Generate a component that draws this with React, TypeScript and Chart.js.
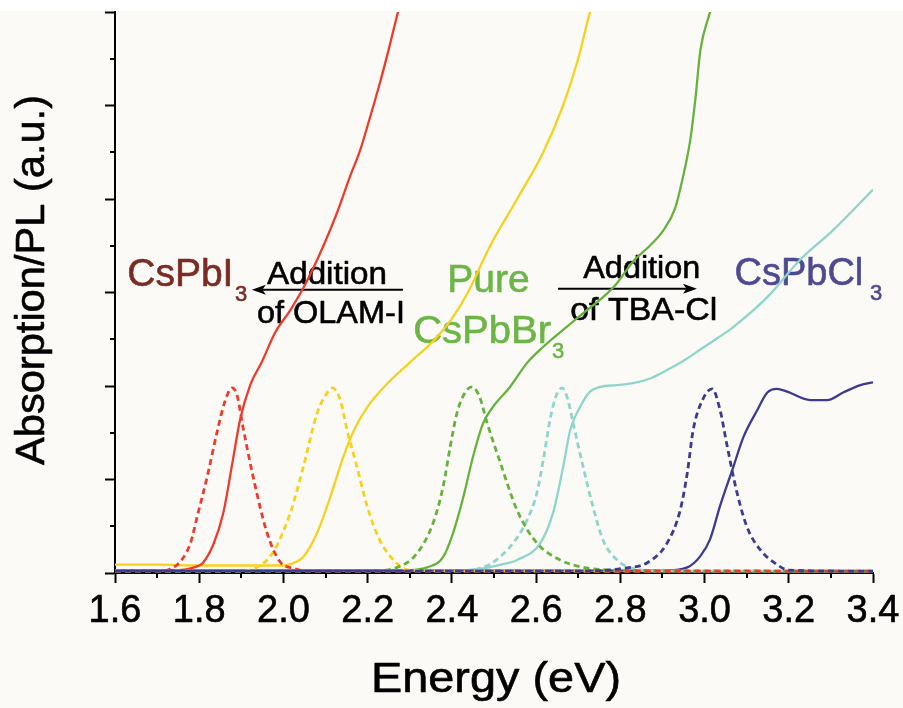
import React, { useEffect, useRef } from "react";
import { Chart, registerables } from "chart.js";

Chart.register(...registerables);

const FONT = "'Liberation Sans', Arial, Helvetica, sans-serif";

// ---- axis ticks ----
const xTickLabels = ["1.6", "1.8", "2.0", "2.2", "2.4", "2.6", "2.8", "3.0", "3.2", "3.4"];
const xMinorTicks = [1.7, 1.9, 2.1, 2.3, 2.5, 2.7, 2.9, 3.1, 3.3];
const yMinorTicks = [0.5, 1.5, 2.5, 3.5, 4.5, 5.5];

// ---- absorption (solid) ----
const iAbsE = [1.6, 1.65, 1.7, 1.75, 1.78, 1.8, 1.809, 1.833, 1.857, 1.88, 1.897, 1.921, 1.949, 1.98, 2.016, 2.051, 2.094, 2.127, 2.158, 2.182, 2.206, 2.229, 2.25, 2.272, 2.29];
const iAbsV = [0.025, 0.025, 0.025, 0.03, 0.05, 0.08, 0.11, 0.3, 0.64, 1.21, 1.64, 2.01, 2.26, 2.57, 2.81, 3.08, 3.49, 3.85, 4.24, 4.52, 4.88, 5.24, 5.6, 6.0, 6.3];

const ibAbsE = [1.6, 1.7, 1.8, 1.9, 2.0, 2.02, 2.047, 2.08, 2.111, 2.142, 2.17, 2.2, 2.241, 2.3, 2.36, 2.4, 2.438, 2.491, 2.555, 2.617, 2.664, 2.7, 2.728, 2.75];
const ibAbsV = [0.09, 0.09, 0.08, 0.08, 0.08, 0.1, 0.17, 0.43, 0.81, 1.24, 1.55, 1.78, 2.0, 2.25, 2.5, 2.72, 3.0, 3.5, 4.0, 4.5, 5.0, 5.5, 6.0, 6.3];

const brAbsE = [1.6, 1.8, 2.0, 2.2, 2.3, 2.341, 2.379, 2.403, 2.427, 2.45, 2.474, 2.498, 2.538, 2.579, 2.617, 2.664, 2.712, 2.759, 2.792, 2.83, 2.87, 2.9, 2.93, 2.949, 2.966, 2.978, 2.99, 3.013, 3.03];
const brAbsV = [0.025, 0.025, 0.025, 0.025, 0.03, 0.06, 0.17, 0.43, 0.81, 1.24, 1.6, 1.78, 1.99, 2.25, 2.42, 2.6, 2.78, 2.95, 3.1, 3.33, 3.5, 3.65, 3.9, 4.24, 4.63, 5.06, 5.59, 6.0, 6.3];

const bcAbsE = [1.6, 2.0, 2.4, 2.474, 2.517, 2.555, 2.61, 2.64, 2.664, 2.681, 2.705, 2.728, 2.752, 2.792, 2.83, 2.871, 2.911, 2.95, 2.99, 3.03, 3.068, 3.149, 3.227, 3.306, 3.4];
const bcAbsV = [0.025, 0.025, 0.025, 0.05, 0.09, 0.14, 0.32, 0.64, 1.13, 1.53, 1.78, 1.94, 1.99, 2.01, 2.03, 2.08, 2.17, 2.27, 2.39, 2.51, 2.63, 2.95, 3.35, 3.67, 4.1];

const clAbsE = [1.6, 2.0, 2.5, 2.9, 2.959, 2.99, 3.013, 3.037, 3.068, 3.092, 3.125, 3.149, 3.172, 3.196, 3.251, 3.291, 3.329, 3.37, 3.4];
const clAbsV = [0.025, 0.025, 0.025, 0.025, 0.06, 0.18, 0.36, 0.72, 1.13, 1.45, 1.74, 1.93, 1.97, 1.94, 1.85, 1.85, 1.93, 2.01, 2.04];

// ---- photoluminescence (dashed) ----
const iPlE = [1.6, 1.7, 1.73, 1.76, 1.78, 1.795, 1.82, 1.842, 1.86, 1.878, 1.89, 1.904, 1.928, 1.961, 1.992, 2.023, 2.06, 2.2, 2.6, 3.0, 3.4];
const iPlV = [0.02, 0.02, 0.04, 0.15, 0.33, 0.6, 1.05, 1.5, 1.82, 1.98, 1.9, 1.56, 1.03, 0.43, 0.12, 0.05, 0.02, 0.02, 0.02, 0.02, 0.02];

const ibPlE = [1.6, 1.9, 1.937, 1.975, 2.016, 2.047, 2.08, 2.1, 2.116, 2.135, 2.151, 2.175, 2.199, 2.229, 2.27, 2.3, 2.5, 3.4];
const ibPlV = [0.02, 0.02, 0.06, 0.22, 0.64, 1.13, 1.71, 1.9, 1.98, 1.85, 1.53, 1.13, 0.71, 0.35, 0.1, 0.03, 0.02, 0.02];

const brPlE = [1.6, 2.2, 2.27, 2.317, 2.355, 2.379, 2.396, 2.412, 2.43, 2.448, 2.466, 2.484, 2.515, 2.555, 2.602, 2.657, 2.712, 2.8, 3.4];
const brPlV = [0.02, 0.02, 0.06, 0.21, 0.53, 0.92, 1.35, 1.71, 1.92, 1.99, 1.88, 1.6, 1.18, 0.67, 0.32, 0.14, 0.06, 0.03, 0.02];

const bcPlE = [1.6, 2.4, 2.474, 2.538, 2.579, 2.602, 2.617, 2.633, 2.648, 2.662, 2.675, 2.688, 2.712, 2.735, 2.759, 2.792, 2.83, 2.9, 3.4];
const bcPlV = [0.02, 0.02, 0.06, 0.28, 0.57, 0.86, 1.21, 1.64, 1.9, 1.98, 1.86, 1.6, 1.13, 0.71, 0.35, 0.14, 0.05, 0.02, 0.02];

const clPlE = [1.6, 2.7, 2.807, 2.864, 2.911, 2.942, 2.959, 2.973, 2.995, 3.018, 3.037, 3.054, 3.077, 3.101, 3.132, 3.172, 3.2, 3.4];
const clPlV = [0.02, 0.02, 0.05, 0.11, 0.32, 0.67, 1.07, 1.53, 1.85, 1.97, 1.74, 1.35, 0.86, 0.49, 0.25, 0.09, 0.03, 0.02];

// ---- colours ----
const RED = "#ee3b2b";
const YELLOW = "#f6d11e";
const GREEN = "#66b23c";
const CYAN = "#8ed5cb";
const BLUE = "#3d3b8f";

const pts = (es: number[], vs: number[]) => es.map((e, i) => ({ x: e, y: vs[i] }));

function drawArrow(ctx: CanvasRenderingContext2D, x1: number, x2: number, y: number) {
  const dir = x2 > x1 ? 1 : -1;
  const head = 14;
  ctx.save();
  ctx.strokeStyle = "#000";
  ctx.fillStyle = "#000";
  ctx.lineWidth = 2;
  ctx.beginPath();
  ctx.moveTo(x1, y);
  ctx.lineTo(x2 - dir * head * 0.6, y);
  ctx.stroke();
  ctx.beginPath();
  ctx.moveTo(x2, y);
  ctx.lineTo(x2 - dir * head, y - 5);
  ctx.lineTo(x2 - dir * head * 0.75, y);
  ctx.lineTo(x2 - dir * head, y + 5);
  ctx.closePath();
  ctx.fill();
  ctx.restore();
}

function txt(
  ctx: CanvasRenderingContext2D,
  s: string,
  x: number,
  y: number,
  size: number,
  color: string,
  align: CanvasTextAlign = "left",
  targetWidth = 0
) {
  ctx.save();
  ctx.font = `${size}px ${FONT}`;
  ctx.fillStyle = color;
  ctx.strokeStyle = color;
  ctx.lineWidth = 0.6;
  ctx.lineJoin = "round";
  ctx.textAlign = align;
  ctx.textBaseline = "alphabetic";
  if (targetWidth > 0) {
    const w = ctx.measureText(s).width;
    ctx.translate(x, y);
    ctx.scale(targetWidth / w, 1);
    ctx.fillText(s, 0, 0);
    ctx.strokeText(s, 0, 0);
  } else {
    ctx.fillText(s, x, y);
    ctx.strokeText(s, x, y);
  }
  ctx.restore();
}

const backgroundPlugin = {
  id: "bg",
  beforeDraw(chart: any) {
    const { ctx, width, height } = chart;
    ctx.save();
    ctx.fillStyle = "#ffffff";
    ctx.fillRect(0, 0, width, height);
    ctx.fillStyle = "#fcfaf7";
    ctx.fillRect(0, 11, width, height - 11);
    ctx.restore();
  },
};

const annotationPlugin = {
  id: "annot",
  beforeDatasetsDraw(chart: any) {
    const { ctx } = chart;
    const xs = chart.scales.x;
    const ys = chart.scales.y;
    const X = (v: number) => xs.getPixelForValue(v);
    const Y = (v: number) => ys.getPixelForValue(v);
    // CsPbI3
    txt(ctx, "CsPbI", X(1.629), Y(3.07), 39, "#7b2b24");
    txt(ctx, "3", X(1.885), Y(2.91), 22, "#7b2b24");
    // left arrow
    txt(ctx, "Addition", X(1.961), Y(3.09), 32, "#000", "left", 120);
    drawArrow(ctx, X(2.284), X(1.925), Y(3.03));
    txt(ctx, "of OLAM-I", X(1.937), Y(2.67), 32, "#000", "left", 148);
    // Pure CsPbBr3
    txt(ctx, "Pure", X(2.389), Y(3.005), 39, "#6cb647");
    txt(ctx, "CsPbBr", X(2.308), Y(2.46), 39, "#6cb647", "left", 138);
    txt(ctx, "3", X(2.638), Y(2.3), 22, "#6cb647");
    // right arrow
    txt(ctx, "Addition", X(2.712), Y(3.155), 32, "#000", "left", 117);
    drawArrow(ctx, X(2.652), X(2.982), Y(3.04));
    txt(ctx, "of TBA-Cl", X(2.681), Y(2.706), 32, "#000", "left", 147);
    // CsPbCl3
    txt(ctx, "CsPbCl", X(3.071), Y(3.08), 38, "#4d4a93");
    txt(ctx, "3", X(3.393), Y(2.92), 22, "#4d4a93");
  },
  afterDraw(chart: any) {
    const { ctx, chartArea } = chart;
    const xs = chart.scales.x;
    const ys = chart.scales.y;
    ctx.save();
    ctx.strokeStyle = "#000";
    ctx.lineWidth = 2;
    ctx.beginPath();
    xMinorTicks.forEach((v) => {
      const px = Math.round(xs.getPixelForValue(v));
      ctx.moveTo(px, chartArea.bottom);
      ctx.lineTo(px, chartArea.bottom + 5);
    });
    yMinorTicks.forEach((v) => {
      const py = Math.round(ys.getPixelForValue(v));
      ctx.moveTo(chartArea.left, py);
      ctx.lineTo(chartArea.left - 5, py);
    });
    ctx.stroke();
    ctx.restore();
    // x tick labels
    xs.ticks.forEach((t: any, i: number) => {
      const label = xTickLabels[i];
      if (label === undefined) return;
      txt(ctx, label, xs.getPixelForValue(t.value), chartArea.bottom + 49, 38, "#000", "center");
    });
    // axis titles
    txt(ctx, "Energy (eV)", (chartArea.left + chartArea.right) / 2 + 2 - 125, 692, 42, "#000", "left", 250);
    ctx.save();
    ctx.translate(44, 280);
    ctx.rotate(-Math.PI / 2);
    txt(ctx, "Absorption/PL (a.u.)", -185, 0, 41, "#000", "left", 370);
    ctx.restore();
  },
};

export default function App() {
  const ref = useRef<HTMLCanvasElement | null>(null);
  useEffect(() => {
    document.body.style.margin = "0";
    const canvas = ref.current;
    if (!canvas) return;
    const solid = (label: string, data: any[], color: string) => ({
      label,
      data,
      borderColor: color,
      backgroundColor: color,
      borderWidth: 2.3,
      pointRadius: 0,
      fill: false,
      cubicInterpolationMode: "monotone" as const,
    });
    const dashed = (label: string, data: any[], color: string) => ({
      ...solid(label, data, color),
      borderWidth: 2.8,
      borderDash: [6, 4],
    });
    const chart = new Chart(canvas, {
      type: "line",
      data: {
        datasets: [
          dashed("CsPbCl3 PL", pts(clPlE, clPlV), BLUE),
          dashed("CsPbI3 PL", pts(iPlE, iPlV), RED),
          dashed("CsPbBr3 PL", pts(brPlE, brPlV), GREEN),
          dashed("CsPb(Br/Cl)3 PL", pts(bcPlE, bcPlV), CYAN),
          dashed("CsPb(I/Br)3 PL", pts(ibPlE, ibPlV), YELLOW),
          solid("CsPbCl3 Abs", pts(clAbsE, clAbsV), BLUE),
          solid("CsPbI3 Abs", pts(iAbsE, iAbsV), RED),
          solid("CsPbBr3 Abs", pts(brAbsE, brAbsV), GREEN),
          solid("CsPb(Br/Cl)3 Abs", pts(bcAbsE, bcAbsV), CYAN),
          solid("CsPb(I/Br)3 Abs", pts(ibAbsE, ibAbsV), YELLOW),
        ],
      },
      options: {
        animation: false,
        responsive: false,
        layout: { padding: { top: 12, right: 30, left: 0, bottom: 0 } },
        plugins: { legend: { display: false }, tooltip: { enabled: false } },
        scales: {
          x: {
            type: "linear",
            min: 1.6,
            max: 3.4,
            ticks: { stepSize: 0.2, display: false, autoSkip: false },
            grid: { display: true, drawOnChartArea: false, drawTicks: true, tickLength: 10, tickColor: "#000", tickWidth: 2 },
            border: { display: true, color: "#000", width: 2 },
            afterFit: (s: any) => {
              s.height = 708 - 573;
              s.paddingLeft = 0;
              s.paddingRight = 0;
            },
          },
          y: {
            type: "linear",
            min: 0,
            max: 6,
            ticks: { stepSize: 1, display: false },
            grid: { display: true, drawOnChartArea: false, drawTicks: true, tickLength: 10, tickColor: "#000", tickWidth: 2 },
            border: { display: true, color: "#000", width: 2 },
            afterFit: (s: any) => {
              s.width = 115;
              s.paddingTop = 0;
              s.paddingBottom = 0;
            },
          },
        },
      },
      plugins: [backgroundPlugin, annotationPlugin],
    } as any);
    return () => chart.destroy();
  }, []);
  return (
    <div style={{ width: 903, height: 708 }}>
      <canvas ref={ref} width={903} height={708} style={{ display: "block" }} />
    </div>
  );
}
